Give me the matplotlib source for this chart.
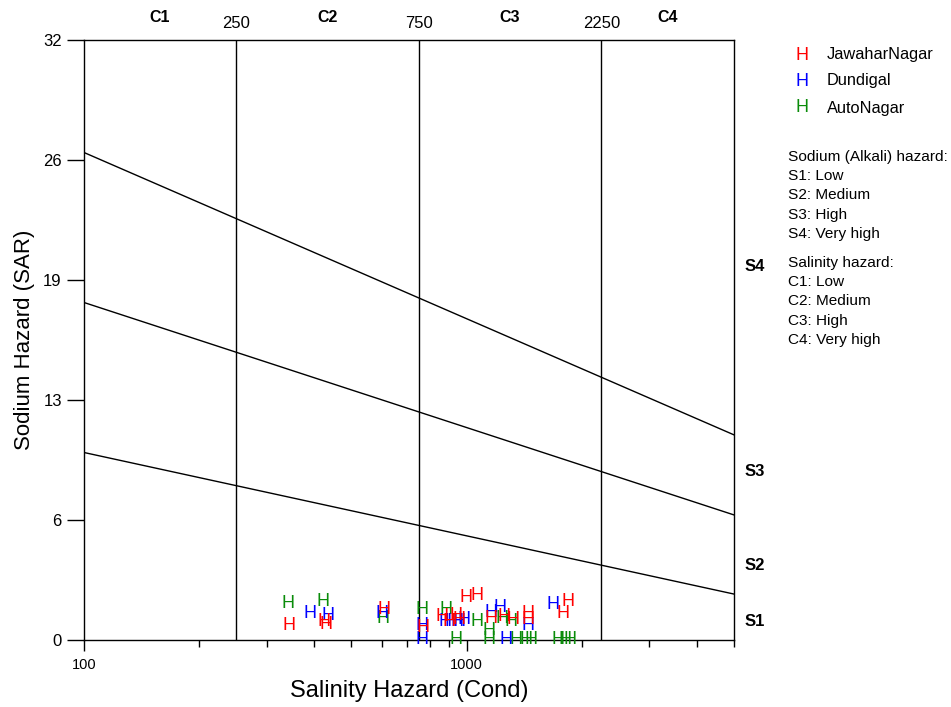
import matplotlib
matplotlib.use("Agg")
import matplotlib.pyplot as plt
from matplotlib.ticker import LogLocator, NullFormatter, FixedLocator, FixedFormatter
from matplotlib.transforms import offset_copy

plt.rcParams['font.family'] = ['Liberation Sans', 'DejaVu Sans']

# ---- data ----
series_names = ["JawaharNagar", "Dundigal", "AutoNagar"]
series_colors = ["#ff0000", "#0000ff", "#0a8c0a"]

jawahar_ec = [344, 424, 429, 608, 768, 861, 936, 953, 900, 994, 1062, 1155, 1249, 1325, 1450, 1450, 1789, 1843]
jawahar_sar = [0.75, 1.01, 0.85, 1.65, 0.64, 1.23, 1.28, 1.10, 1.00, 2.24, 2.40, 1.17, 1.23, 1.07, 1.44, 1.07, 1.44, 2.03]

dundigal_ec = [390, 435, 601, 764, 764, 909, 953, 982, 942, 880, 1155, 1226, 1264, 1450, 1685]
dundigal_sar = [1.39, 1.28, 1.39, 0.80, 0.0, 0.96, 0.96, 1.07, 0.96, 1.00, 1.49, 1.71, 0.0, 0.80, 1.87]

auto_ec = [342, 422, 604, 764, 882, 936, 1062, 1141, 1141, 1234, 1310, 1349, 1432, 1476, 1736, 1810, 1866]
auto_sar = [1.92, 2.03, 1.17, 1.65, 1.60, 0.0, 0.96, 0.53, 0.0, 1.17, 0.96, 0.0, 0.0, 0.0, 0.0, 0.0, 0.0]

# hazard boundaries
ec_limits = [100, 5000]
sar_boundary_left = [10.0, 18.0, 26.0]
sar_boundary_right = [2.45, 6.67, 10.94]
salinity_breaks = [250, 750, 2250]
salinity_classes = ["C1", "C2", "C3", "C4"]
salinity_edges = [100, 250, 750, 2250, 5000]
sodium_classes = ["S4", "S3", "S2", "S1"]
sodium_label_pos = [19.9, 9.0, 4.0, 1.0]

y_ticks = [0, 6.4, 12.8, 19.2, 25.6, 32]
y_ticklabels = ["0", "6", "13", "19", "26", "32"]

notes = ["Sodium (Alkali) hazard:", "S1: Low", "S2: Medium", "S3: High", "S4: Very high",
         None,
         "Salinity hazard:", "C1: Low", "C2: Medium", "C3: High", "C4: Very high"]

# ---- figure ----
fig = plt.figure(figsize=(9.51, 7.07), dpi=100)
ax = fig.add_axes([84/951, (707-640)/707, 650/951, 600/707])
ax.set_xscale('log')
ax.set_xlim(ec_limits)
ax.set_ylim(0, 32)

for l, r in zip(sar_boundary_left, sar_boundary_right):
    ax.plot(ec_limits, [l, r], color='black', lw=1.0)
for b in salinity_breaks:
    ax.axvline(b, color='black', lw=1.0)

for s in ax.spines.values():
    s.set_linewidth(1.0)

ax.xaxis.set_major_locator(FixedLocator([100, 1000]))
ax.xaxis.set_major_formatter(FixedFormatter(["100", "1000"]))
ax.xaxis.set_minor_locator(LogLocator(base=10, subs=range(2, 10)))
ax.xaxis.set_minor_formatter(NullFormatter())
ax.tick_params(axis='x', which='major', direction='out', length=8, width=1, labelsize=10.5, pad=5)
ax.tick_params(axis='x', which='minor', direction='out', length=5, width=1)
ax.set_yticks(y_ticks)
ax.set_yticklabels(y_ticklabels)
ax.tick_params(axis='y', direction='out', length=12, width=1, labelsize=12, pad=4)

ax.set_xlabel("Salinity Hazard (Cond)", fontsize=17, labelpad=6)
ax.set_ylabel("Sodium Hazard (SAR)", fontsize=16, labelpad=6)

# top labels
xt = ax.get_xaxis_transform()
for b in salinity_breaks:
    ax.text(b, 1.0, str(b), transform=offset_copy(xt, fig=fig, x=0, y=17, units='dots'),
            ha='center', va='center', fontsize=12)
for i, c in enumerate(salinity_classes):
    xc = (salinity_edges[i] * salinity_edges[i+1]) ** 0.5
    ax.text(xc, 1.0, c, transform=offset_copy(xt, fig=fig, x=0, y=23, units='dots'),
            ha='center', va='center', fontsize=11.5, fontweight='bold')
for lab, yv in zip(sodium_classes, sodium_label_pos):
    ax.text(1.016, yv, lab, transform=ax.get_yaxis_transform(), ha='left', va='center',
            fontsize=12, fontweight='bold')

# points
all_series = [(jawahar_ec, jawahar_sar), (dundigal_ec, dundigal_sar), (auto_ec, auto_sar)]
order = [2, 1, 0]
for idx in order:
    xs, ys = all_series[idx]
    for xv, yv in zip(xs, ys):
        ax.text(xv, yv, "H", color=series_colors[idx], ha='center', va='center',
                fontsize=13, clip_on=False, zorder=3)

# legend
leg_y = [55, 81, 108]
for name, col, yp in zip(series_names, series_colors, leg_y):
    fig.text(802/951, 1 - yp/707, "H", color=col, ha='center', va='center', fontsize=13)
    fig.text(827/951, 1 - yp/707, name, color='black', ha='left', va='center', fontsize=11.8)

y0 = 157
for t in notes:
    if t is None:
        y0 += 10
        continue
    fig.text(788/951, 1 - y0/707, t, ha='left', va='center', fontsize=11.1)
    y0 += 19.2

fig.savefig("out.png", dpi=100)
